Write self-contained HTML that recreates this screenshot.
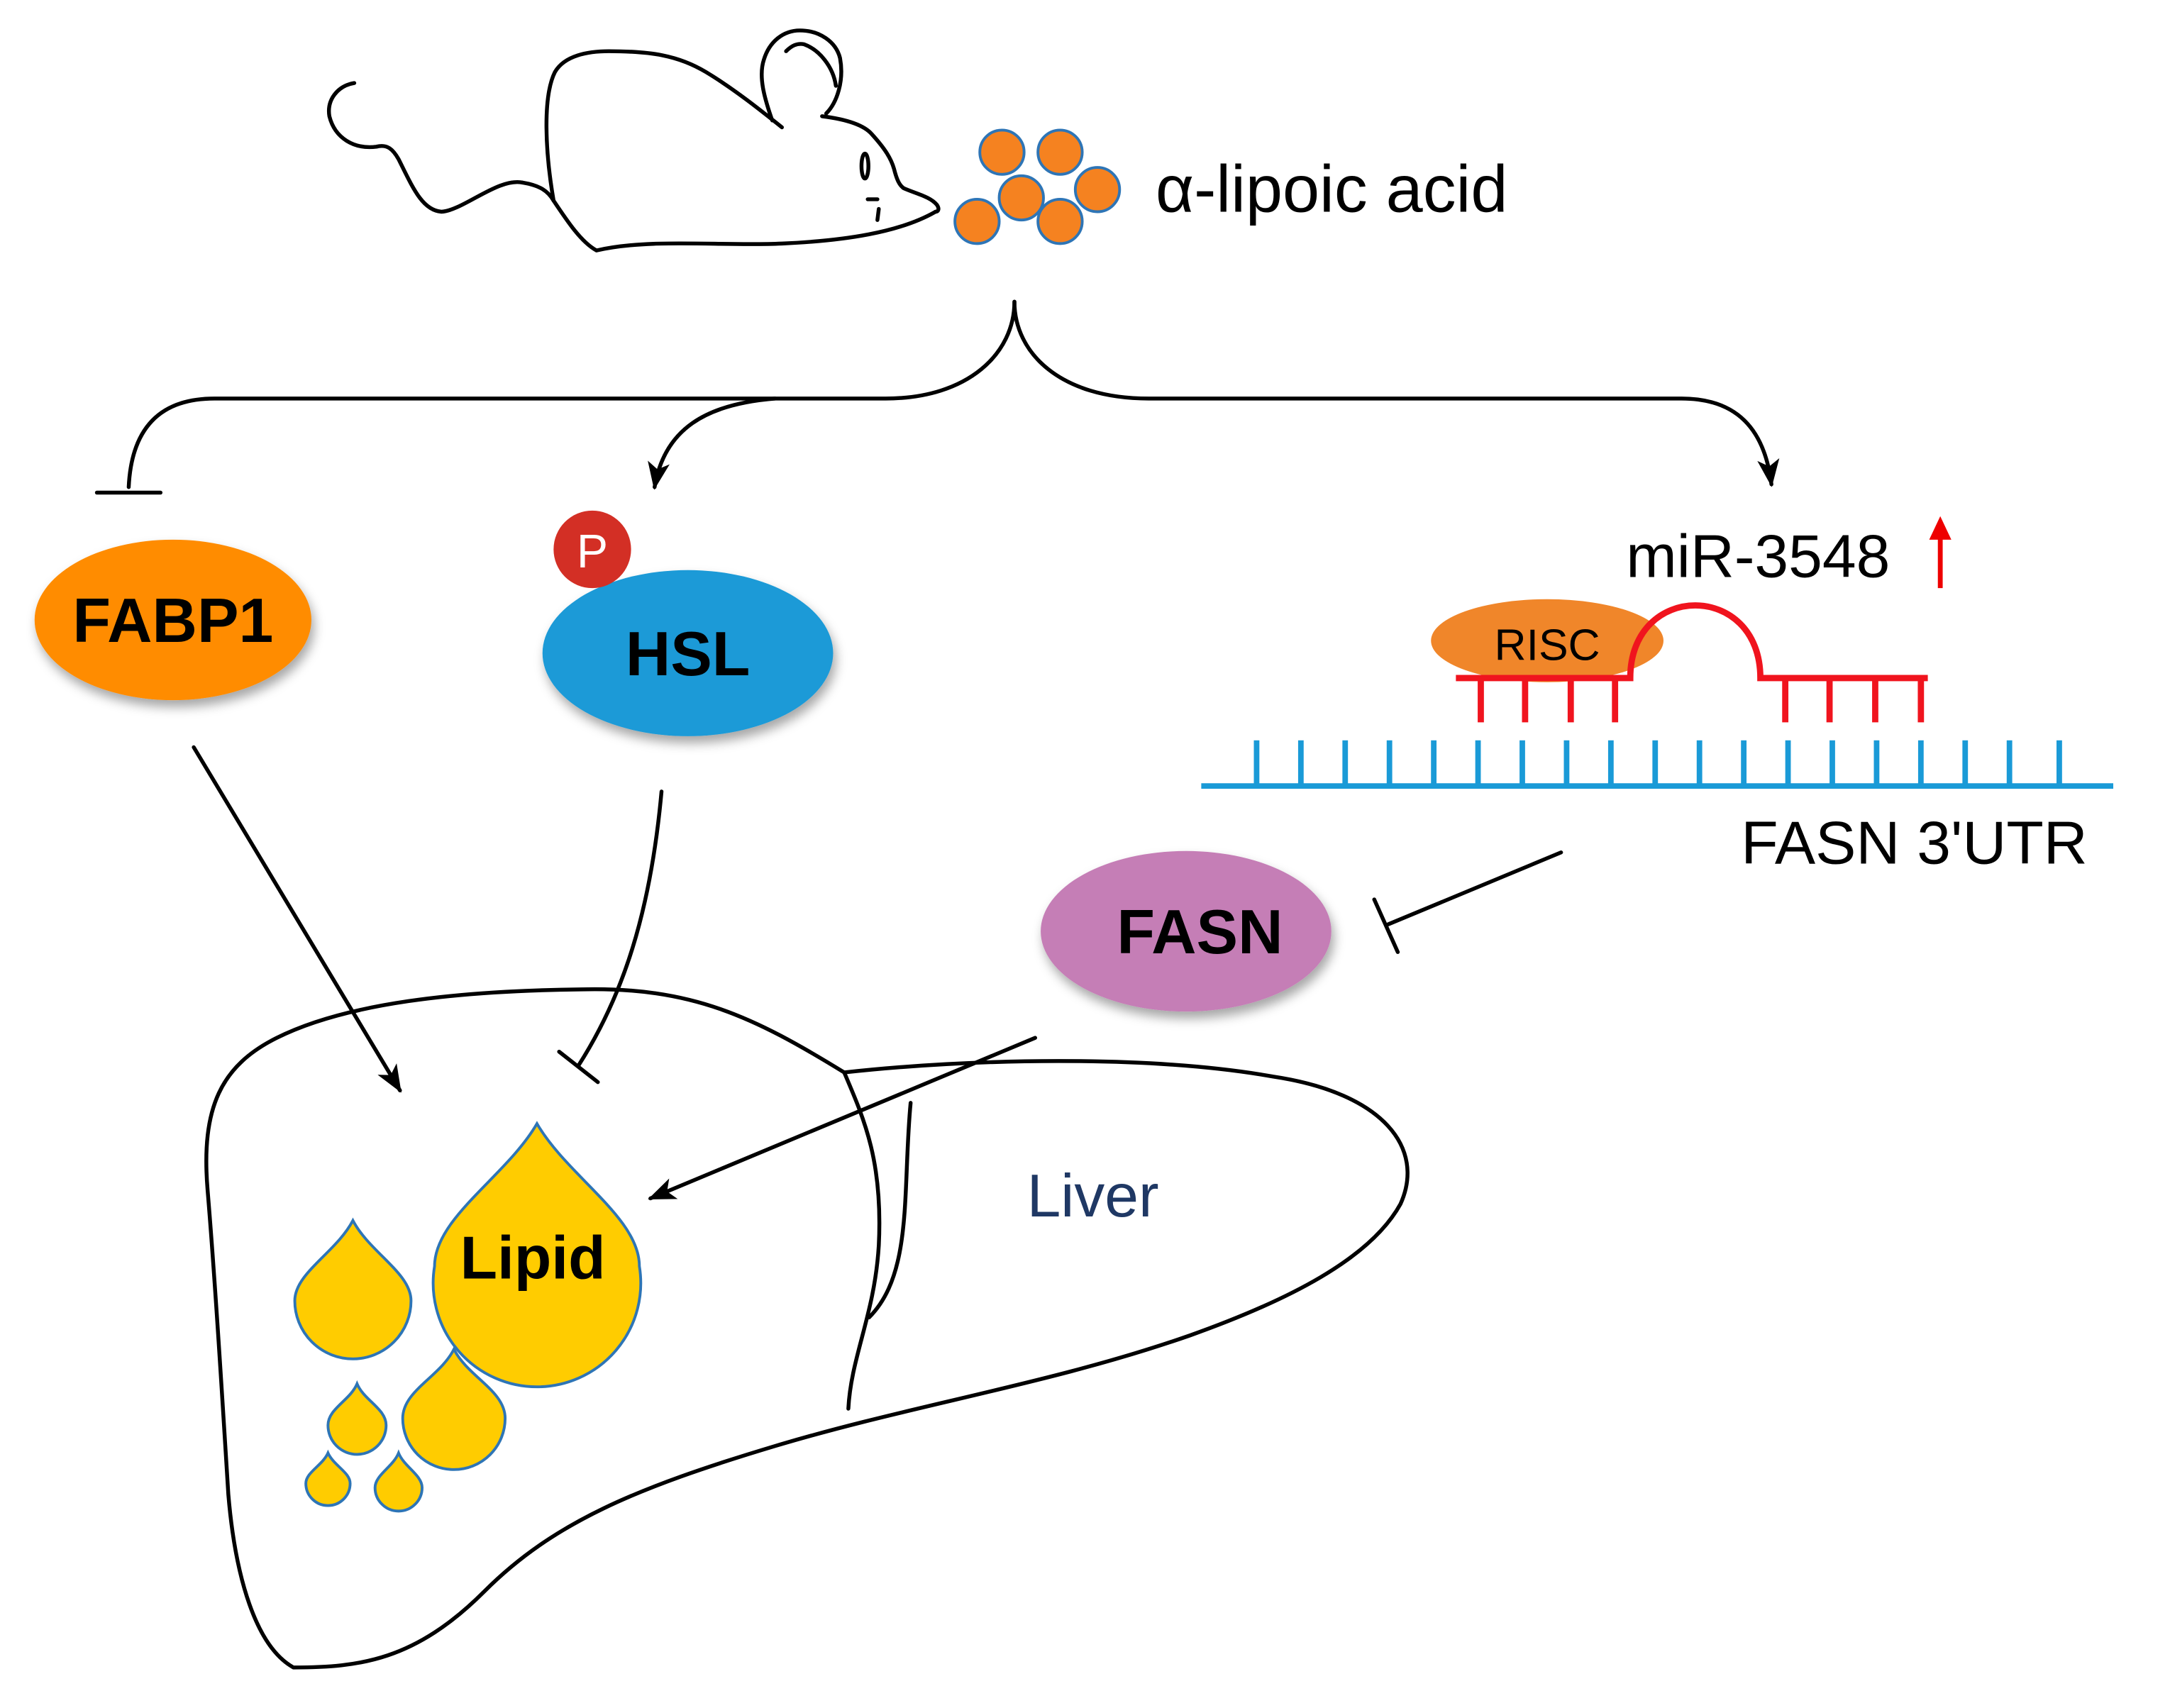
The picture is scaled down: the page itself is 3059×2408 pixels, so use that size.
<!DOCTYPE html>
<html><head><meta charset="utf-8"><style>html,body{margin:0;padding:0;background:#fff}svg{display:block}</style></head>
<body>
<svg width="3059" height="2408" viewBox="0 0 1568 1234.3" xmlns="http://www.w3.org/2000/svg" font-family="Liberation Sans, Arial, sans-serif">
<defs>
<marker id="arb" markerWidth="20" markerHeight="20" refX="18" refY="10" orient="auto" markerUnits="userSpaceOnUse" viewBox="0 0 20 20"><path d="M0,2 L20,10 L0,18 L5,10 z" fill="#000"/></marker>
<filter id="sh" x="-20%" y="-20%" width="140%" height="150%"><feDropShadow dx="2" dy="5" stdDeviation="4" flood-color="#000" flood-opacity="0.35"/></filter>
</defs>
<g fill="none" stroke="#000" stroke-width="2.8" stroke-linecap="round" stroke-linejoin="round">
<path d="M256,60 C244,62 236,72 238,84 C242,100 256,108 272,106 C280,104 284,108 288,115 C298,135 305,152 319,153 C335,152 360,128 378,132 C390,134 396,138 400,145 C410,160 420,175 431,181 C470,172 520,178 565,176 C610,174 650,168 676,153"/>
<path d="M400,145 C394,110 392,70 401,52 C408,40 425,37 440,37 C470,37 490,40 510,52 C530,64 550,80 565,92"/>
<path d="M558,87 C552,70 548,55 552,43 C556,30 566,22 578,22 C592,22 604,30 607,42 C610,58 605,74 597,82"/>
<path d="M568,37 C572,33 576,31 581,32 C592,36 602,48 604,62"/>
<path d="M594,84 C610,86 624,90 630,97 C640,108 644,115 646,122 C648,130 650,134 653,136 C662,140 672,142 677,148 C679,151 678,153 676,153"/>
<ellipse cx="625" cy="120" rx="2.5" ry="9"/>
<path d="M627,144 L634,144 M635,151 L634,159"/>
<path d="M733,218 C733,255 700,288 640,288 L155,288 C115,288 95,310 93,352"/>
<path d="M70,356 L116,356"/>
<path d="M733,218 C733,255 766,288 830,288 L1215,288 C1255,288 1275,310 1280,350" marker-end="url(#arb)"/>
<path d="M560,288 C510,292 480,310 473,352" marker-end="url(#arb)"/>
<path d="M140,540 L289,788" marker-end="url(#arb)"/>
<path d="M478,572 C470,660 450,720 418,770"/>
<path d="M404,760 L432,782"/>
<path d="M1128,616 L1003,668"/>
<path d="M993,650 L1010,688"/>
<path d="M748,750 L470,866" marker-end="url(#arb)"/>
<path d="M212,1205 C185,1190 170,1140 165,1080 C160,1000 155,920 150,860 C145,800 160,770 200,750 C250,725 330,716 420,715 C500,713 545,735 610,775 C700,765 830,762 920,778 C1000,790 1030,830 1012,870 C990,910 930,940 860,965 C760,1000 660,1015 560,1045 C460,1075 400,1100 350,1150 C300,1200 260,1205 212,1205 Z"/>
<path d="M610,775 C625,810 638,840 635,900 C632,950 615,980 613,1018"/>
<path d="M658,797 C652,860 660,920 628,952"/>
</g>
<g fill="#F58220" stroke="#2E75B6" stroke-width="2">
<circle cx="724" cy="110" r="16"/><circle cx="766" cy="110" r="16"/><circle cx="738" cy="143" r="16"/>
<circle cx="706" cy="160" r="16"/><circle cx="766" cy="160" r="16"/><circle cx="793" cy="137" r="16"/>
</g>
<text x="835" y="153" font-size="48">α-lipoic acid</text>
<ellipse cx="125" cy="448" rx="100" ry="58" fill="#FF8C00" filter="url(#sh)"/>
<text x="125" y="464" font-size="45" font-weight="bold" text-anchor="middle">FABP1</text>
<ellipse cx="497" cy="472" rx="105" ry="60" fill="#1A9AD7" filter="url(#sh)"/>
<text x="497" y="488" font-size="45" font-weight="bold" text-anchor="middle">HSL</text>
<circle cx="428" cy="397" r="28" fill="#D32F25"/>
<text x="428" y="410" font-size="34" fill="#fff" text-anchor="middle">P</text>
<ellipse cx="857" cy="673" rx="105" ry="58" fill="#C57EB6" filter="url(#sh)"/>
<text x="867" y="689" font-size="45" font-weight="bold" text-anchor="middle">FASN</text>
<text x="1175" y="417" font-size="44">miR-3548</text>
<path d="M1402,425 L1402,385" stroke="#E00" stroke-width="3.5"/>
<path d="M1394,390 L1402,373 L1410,390 z" fill="#E00"/>
<ellipse cx="1118" cy="463" rx="84" ry="30" fill="#F0862A"/>
<text x="1118" y="477" font-size="32" text-anchor="middle">RISC</text>
<g stroke="#F0141E" stroke-width="4.5" fill="none">
<path d="M1052,490 L1178,490 C1178,420 1272,420 1272,490 L1393,490"/>
<path d="M1070,490V522M1102,490V522M1135,490V522M1167,490V522M1290,490V522M1322,490V522M1355,490V522M1388,490V522"/>
</g>
<g stroke="#1A9AD7" stroke-width="4" fill="none">
<path d="M868,568 L1527,568"/>
<path d="M908,568V535M940,568V535M972,568V535M1004,568V535M1036,568V535M1068,568V535M1100,568V535M1132,568V535M1164,568V535M1196,568V535M1228,568V535M1260,568V535M1292,568V535M1324,568V535M1356,568V535M1388,568V535M1420,568V535M1452,568V535M1488,568V535"/>
</g>
<text x="1258" y="624" font-size="44">FASN 3'UTR</text>
<text x="742" y="879" font-size="44" fill="#1F3864">Liver</text>
<g fill="#FFCC00" stroke="#2E75B6" stroke-width="2">
<path d="M388,812 C410,850 462,880 462,915 A75,75 0 1 1 314,915 C314,880 366,850 388,812 Z"/>
<path d="M255,882 C267,905 297,920 297,940 A42,42 0 1 1 213,940 C213,920 243,905 255,882 Z"/>
<path d="M328,975 C338,995 365,1005 365,1025 A37,37 0 1 1 291,1025 C291,1005 318,995 328,975 Z"/>
<path d="M258,1000 C263,1012 279,1018 279,1030 A21,21 0 1 1 237,1030 C237,1018 253,1012 258,1000 Z"/>
<path d="M237,1050 C241,1059 253,1064 253,1072 A16,16 0 1 1 221,1072 C221,1064 233,1059 237,1050 Z"/>
<path d="M288,1050 C292,1060 305,1066 305,1075 A17,17 0 1 1 271,1075 C271,1066 284,1060 288,1050 Z"/>
</g>
<text x="385" y="924" font-size="44" font-weight="bold" text-anchor="middle">Lipid</text>
</svg>
</body></html>
